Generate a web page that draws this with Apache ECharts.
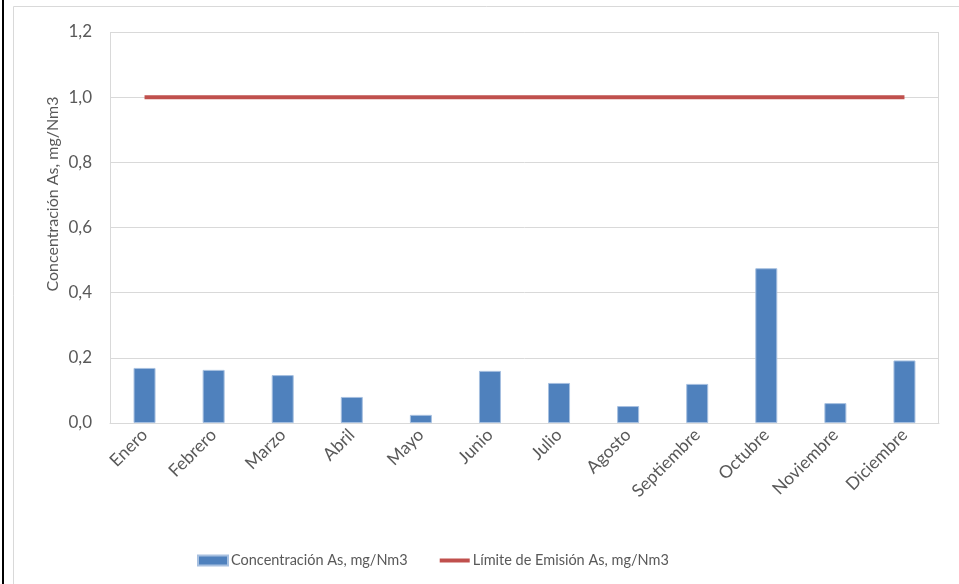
<!DOCTYPE html>
<html><head><meta charset="utf-8">
<script src="https://cdn.jsdelivr.net/npm/echarts@6/dist/echarts.min.js"></script>
<style>html,body{margin:0;padding:0;background:#fff}#c{width:959px;height:584px}</style>
</head><body><div id="c"></div>
<script>
const categories = ['Enero','Febrero','Marzo','Abril','Mayo','Junio','Julio','Agosto','Septiembre','Octubre','Noviembre','Diciembre'];
const concentracion = [0.169,0.163,0.147,0.080,0.025,0.160,0.123,0.052,0.120,0.475,0.061,0.192];
const limite = [1.0,1.0,1.0,1.0,1.0,1.0,1.0,1.0,1.0,1.0,1.0,1.0];
const yTicks = [0,0.2,0.4,0.6,0.8,1.0,1.2];
const seriesNames = ['Concentración As, mg/Nm3','Límite de Emisión As, mg/Nm3'];
const yTitle = 'Concentración As, mg/Nm3';

const font = 'Lato, "Open Sans", sans-serif';
const chart = echarts.init(document.getElementById('c'), null, {renderer:'canvas'});
chart.setOption({
  animation:false,
  textStyle:{fontFamily:font},
  graphic:[
    {type:'line', shape:{x1:3,y1:0,x2:3,y2:584}, style:{stroke:'#000',lineWidth:2}},
    {type:'rect', shape:{x:13.5,y:6.5,width:960,height:600}, style:{fill:'none',stroke:'#d9d9d9',lineWidth:1}},
    {type:'rect', shape:{x:110.5,y:32.5,width:828,height:391}, style:{fill:'none',stroke:'#d9d9d9',lineWidth:1}, z:-1},
    {type:'text', x:53, y:194, rotation:Math.PI/2,
      style:{text:yTitle, fill:'#595959', font:'16px '+font, align:'center', verticalAlign:'middle'}}
  ],
  legend:{
    data:[
      {name:seriesNames[0], icon:'rect'},
      {name:seriesNames[1], itemStyle:{opacity:0}, lineStyle:{width:4, color:'#c0504d'}}
    ],
    left:192, top:548, itemWidth:30, itemHeight:10, itemGap:30,
    textStyle:{color:'#595959', fontSize:14.5, fontFamily:font, padding:[0,0,0,-2]}
  },
  grid:{left:110, right:20, top:32, bottom:161, containLabel:false},
  xAxis:{
    type:'category', data:categories,
    axisLine:{lineStyle:{color:'#d9d9d9'}}, axisTick:{show:false},
    axisLabel:{rotate:45, color:'#595959', fontSize:17.5, fontFamily:font, margin:9, interval:0}
  },
  yAxis:{
    type:'value', min:0, max:1.2, interval:0.2,
    axisLine:{show:false}, axisTick:{show:false},
    splitLine:{lineStyle:{color:'#d9d9d9'}},
    axisLabel:{color:'#595959', fontSize:17, fontFamily:font, margin:18,
      formatter:v=>v.toFixed(1).replace('.',',')}
  },
  series:[
    {name:seriesNames[0], type:'bar', data:concentracion, barWidth:22,
      itemStyle:{color:'#4f81bd', borderColor:'#a7c0e0', borderWidth:1}},
    {name:seriesNames[1], type:'line', data:limite, symbol:'none',
      lineStyle:{color:'#c0504d', width:4}, itemStyle:{color:'#c0504d'}}
  ]
});
</script></body></html>
